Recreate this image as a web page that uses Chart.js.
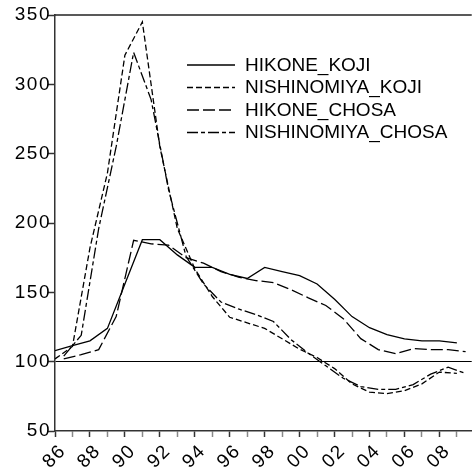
<!DOCTYPE html>
<html>
<head>
<meta charset="utf-8">
<script src="https://cdn.jsdelivr.net/npm/chart.js@4.4.1/dist/chart.umd.min.js"></script>
<style>
  html, body { margin: 0; padding: 0; background: #fff; }
  canvas { display: block; }
</style>
</head>
<body>
<canvas id="landPrice" width="476" height="474"></canvas>
<script>
// annual index values; the survey (CHOSA) series sit at mid-year
const years = [1986, 1987, 1988, 1989, 1990, 1991, 1992, 1993, 1994, 1995, 1996, 1997,
               1998, 1999, 2000, 2001, 2002, 2003, 2004, 2005, 2006, 2007, 2008, 2009];
const hikoneKoji = [108, 111.5, 115, 124, 156, 188, 188, 177, 168, 168, 163, 160,
                    168, 165, 162, 156, 145, 132.5, 124.5, 119.5, 116.5, 115, 115, 113.5];
const nishinomiyaKoji = [102, 111, 182, 236, 321, 345, 255, 196, 167, 147, 132, 128,
                         124, 116.5, 109, 103, 95, 84, 78, 77, 79, 84, 92.5, 91.5];
const hikoneChosa = [102, 105, 108.7, 132.5, 187.5, 185, 184, 175, 171, 165, 161, 158.5,
                     157, 152, 146, 140.5, 131, 116.6, 108.7, 105.8, 109.4, 108.7, 108.7, 107.2];
const nishinomiyaChosa = [104, 119, 196, 255, 323, 289, 224, 176, 156, 143, 138, 134,
                          129, 116, 106, 97, 88, 82, 80, 80, 83.5, 91, 96, 91.5];
const yTicks = [50, 100, 150, 200, 250, 300, 350];

const toPoints = (vals, offset) => vals.map((v, i) => ({ x: years[i] + offset, y: v }));

const series = [
  { label: 'HIKONE_KOJI', data: toPoints(hikoneKoji, 0), dash: [] },
  { label: 'NISHINOMIYA_KOJI', data: toPoints(nishinomiyaKoji, 0), dash: [6, 3] },
  { label: 'HIKONE_CHOSA', data: toPoints(hikoneChosa, 0.5), dash: [12, 4] },
  { label: 'NISHINOMIYA_CHOSA', data: toPoints(nishinomiyaChosa, 0.5), dash: [11, 3, 4, 3] }
];

const FONT = 'Liberation Sans, Arial, sans-serif';

// top frame line plus slightly spaced tick lettering
const framePlugin = {
  id: 'frame',
  beforeDraw(chart) {
    chart.ctx.letterSpacing = '1.5px';
  },
  afterDraw(chart) {
    const { ctx, chartArea } = chart;
    ctx.save();
    ctx.letterSpacing = '0px';
    ctx.strokeStyle = '#222';
    ctx.lineWidth = 1.5;
    ctx.beginPath();
    ctx.moveTo(chartArea.left, chartArea.top);
    ctx.lineTo(chartArea.right, chartArea.top);
    ctx.stroke();
    ctx.restore();
    ctx.letterSpacing = '0px';
  }
};

// legend drawn inside the plot
const insideLegend = {
  id: 'insideLegend',
  afterDatasetsDraw(chart) {
    const { ctx, chartArea } = chart;
    const x0 = chartArea.left + 132;
    const y0 = chartArea.top + 50;
    ctx.save();
    ctx.letterSpacing = '0px';
    ctx.font = '19px ' + FONT;
    ctx.textBaseline = 'middle';
    ctx.fillStyle = '#000';
    chart.data.datasets.forEach((ds, i) => {
      const y = y0 + i * 22.5;
      ctx.strokeStyle = '#000';
      ctx.lineWidth = 1.3;
      ctx.setLineDash(ds.borderDash || []);
      ctx.beginPath();
      ctx.moveTo(x0, y);
      ctx.lineTo(x0 + 48, y);
      ctx.stroke();
      ctx.setLineDash([]);
      ctx.fillText(ds.label, x0 + 58, y + 0.5);
    });
    ctx.restore();
  }
};

new Chart(document.getElementById('landPrice'), {
  type: 'line',
  data: {
    datasets: series.map(s => ({
      label: s.label,
      data: s.data,
      borderColor: '#000',
      borderWidth: 1.3,
      borderDash: s.dash,
      pointRadius: 0,
      tension: 0,
      fill: false
    }))
  },
  options: {
    responsive: false,
    animation: false,
    layout: { padding: { top: 15, right: 0, left: 0, bottom: 0 } },
    plugins: { legend: { display: false }, tooltip: { enabled: false } },
    scales: {
      x: {
        type: 'linear',
        min: 1986,
        max: 2009.85,
        afterFit(scale) { scale.height = 43; },
        border: { display: true, color: '#333', width: 1.5 },
        grid: {
          drawOnChartArea: false,
          drawTicks: true,
          tickLength: 6,
          tickColor: c => (c.tick && c.tick.value % 2 === 0 ? '#333' : '#888'),
          tickWidth: 1.5
        },
        ticks: {
          stepSize: 1,
          includeBounds: false,
          autoSkip: false,
          maxRotation: 45,
          minRotation: 45,
          padding: 3,
          labelOffset: 8,
          color: '#000',
          font: { family: FONT, size: 19 },
          callback: v => (v % 2 === 0 ? String(v).slice(2) : '')
        }
      },
      y: {
        min: 50,
        max: 350,
        afterFit(scale) { scale.width = 55; },
        afterBuildTicks(scale) { scale.ticks = yTicks.map(v => ({ value: v })); },
        border: { display: true, color: '#333', width: 1.5 },
        grid: {
          drawOnChartArea: true,
          drawTicks: true,
          tickLength: 7,
          color: c => (c.tick && c.tick.value === 100 ? '#000' : 'rgba(0,0,0,0)'),
          lineWidth: 1,
          tickColor: '#333',
          tickWidth: 1.5
        },
        ticks: {
          padding: -3,
          color: '#000',
          font: { family: FONT, size: 19 }
        }
      }
    }
  },
  plugins: [framePlugin, insideLegend]
});
</script>
</body>
</html>
